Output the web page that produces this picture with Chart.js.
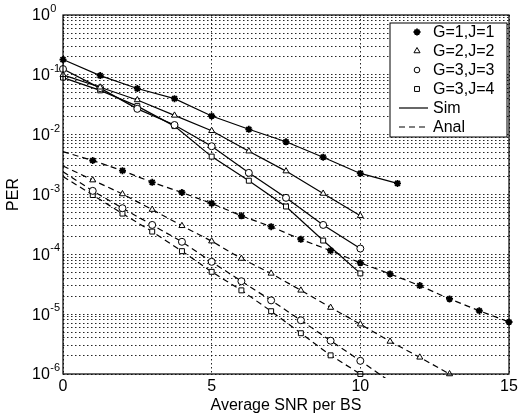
<!DOCTYPE html>
<html>
<head>
<meta charset="utf-8">
<script src="https://cdn.jsdelivr.net/npm/chart.js@4.4.1/dist/chart.umd.min.js"></script>
<style>
  body { margin: 0; background: #fff; }
  canvas { display: block; }
</style>
</head>
<body>
<canvas id="perChart" width="519" height="417"></canvas>
<script>
// simulated PER (solid lines)
const simSnr = [0, 1.25, 2.5, 3.75, 5, 6.25, 7.5, 8.75, 10, 11.25];
const simG1J1 = [0.18, 0.097, 0.059, 0.040, 0.0205, 0.0123, 0.0076, 0.0042, 0.00225, 0.00153];
const simG2J2 = [0.1, 0.062, 0.038, 0.021, 0.0116, 0.0053, 0.00246, 0.00104, 0.00044];
const simG3J3 = [0.125, 0.06, 0.027, 0.0145, 0.0064, 0.0023, 0.00088, 0.00031, 0.000125];
const simG3J4 = [0.09, 0.055, 0.03, 0.0139, 0.0043, 0.0017, 0.00063, 0.00017, 0.000048];

// analytical PER (dashed lines)
const analSnr = [0, 1, 2, 3, 4, 5, 6, 7, 8, 9, 10, 11, 12, 13, 14, 15];
const analG1J1 = [0.0052, 0.0037, 0.0025, 0.0016, 0.00108, 0.00071, 0.00044, 0.00029, 0.000178, 0.000115, 7.2e-5, 4.7e-5, 3.0e-5, 1.8e-5, 1.14e-5, 7.4e-6];
const analG2J2 = [0.003, 0.00174, 0.00102, 0.00056, 0.0003, 0.000166, 8.5e-5, 4.8e-5, 2.5e-5, 1.29e-5, 6.8e-6, 3.5e-6, 1.9e-6, 1.0e-6];
const analG3J3 = [0.0024, 0.00115, 0.00059, 0.00031, 0.000162, 7.5e-5, 3.55e-5, 1.7e-5, 7.9e-6, 3.6e-6, 1.66e-6, 7.5e-7];
const analG3J4 = [0.002, 0.00098, 0.00048, 0.00024, 0.000113, 5.1e-5, 2.5e-5, 1.12e-5, 4.8e-6, 2.05e-6, 1.0e-6];

const legendLabels = ['G=1,J=1', 'G=2,J=2', 'G=3,J=3', 'G=3,J=4', 'Sim', 'Anal'];
const markerStyles = ['star', 'triangle', 'circle', 'rect'];
const xTicks = [0, 5, 10, 15];
const yDecades = [0, -1, -2, -3, -4, -5, -6];

const FONT = "'Liberation Sans', Arial, Helvetica, sans-serif";

function pts(xs, ys) {
    return ys.map((v, i) => ({ x: xs[i], y: v }));
}

function series(xs, ys, style, dashed) {
    return {
        data: pts(xs, ys),
        borderColor: '#000',
        borderWidth: 1.2,
        borderDash: dashed ? [6, 4] : [],
        pointStyle: style,
        pointRadius: dashed ? (c => (c.raw && c.raw.x === 0 ? 0 : 3.5)) : 3.5,
        pointBorderWidth: style === 'star' ? 1.8 : 1,
        pointBorderColor: '#000',
        pointBackgroundColor: style === 'star' ? '#000' : '#fff',
        tension: 0,
        clip: 4
    };
}

function drawMarker(ctx, style, x, y, r) {
    ctx.save();
    ctx.strokeStyle = '#000';
    ctx.fillStyle = style === 'star' ? '#000' : '#fff';
    ctx.lineWidth = style === 'star' ? 1.8 : 1;
    ctx.beginPath();
    if (style === 'star') {
        for (let k = 0; k < 4; k++) {
            const a = k * Math.PI / 4;
            ctx.moveTo(x - r * Math.cos(a), y - r * Math.sin(a));
            ctx.lineTo(x + r * Math.cos(a), y + r * Math.sin(a));
        }
        ctx.stroke();
    } else if (style === 'triangle') {
        ctx.moveTo(x, y - r);
        ctx.lineTo(x + r * 0.87, y + r * 0.5);
        ctx.lineTo(x - r * 0.87, y + r * 0.5);
        ctx.closePath();
        ctx.fill(); ctx.stroke();
    } else if (style === 'circle') {
        ctx.arc(x, y, r * 0.8, 0, Math.PI * 2);
        ctx.fill(); ctx.stroke();
    } else {
        ctx.rect(x - r * 0.7, y - r * 0.7, r * 1.4, r * 1.4);
        ctx.fill(); ctx.stroke();
    }
    ctx.restore();
}

const decor = {
    id: 'decor',
    afterDraw(chart) {
        const { ctx, chartArea: a } = chart;
        const x = chart.scales.x;
        const y = chart.scales.y;
        ctx.save();
        ctx.setLineDash([]);
        ctx.strokeStyle = '#000';
        ctx.lineWidth = 1.2;
        ctx.strokeRect(a.left, a.top, a.right - a.left, a.bottom - a.top);

        ctx.fillStyle = '#000';
        ctx.textBaseline = 'middle';

        // x tick labels and title
        ctx.font = '16px ' + FONT;
        ctx.textAlign = 'center';
        xTicks.forEach(v => {
            ctx.fillText(String(v), x.getPixelForValue(v), a.bottom + 13);
        });
        ctx.fillText('Average SNR per BS', (a.left + a.right) / 2, a.bottom + 32);

        // y tick labels 10^n
        ctx.textAlign = 'left';
        yDecades.forEach(e => {
            const py = y.getPixelForValue(Math.pow(10, e));
            ctx.font = '16px ' + FONT;
            ctx.fillText('10', 32, py + 1);
            const w = ctx.measureText('10').width;
            ctx.font = '11px ' + FONT;
            ctx.fillText(String(e), 32 + w + 0.5, py - 6);
        });

        // y title
        ctx.save();
        ctx.translate(14, (a.top + a.bottom) / 2);
        ctx.rotate(-Math.PI / 2);
        ctx.textAlign = 'center';
        ctx.font = '16px ' + FONT;
        ctx.fillText('PER', 0, 0);
        ctx.restore();

        // legend box
        const bx = 390, by = 23, bw = 117, bh = 114;
        ctx.fillStyle = '#fff';
        ctx.fillRect(bx, by, bw, bh);
        ctx.strokeStyle = '#000';
        ctx.lineWidth = 1;
        ctx.strokeRect(bx, by, bw, bh);
        legendLabels.forEach((lab, i) => {
            const ry = by + 9 + i * 19;
            if (i < 4) {
                drawMarker(ctx, markerStyles[i], 417, ry, 3.5);
            } else {
                ctx.save();
                ctx.strokeStyle = '#000';
                ctx.lineWidth = 1.2;
                ctx.setLineDash(i === 5 ? [6, 4] : []);
                ctx.beginPath();
                ctx.moveTo(399, ry);
                ctx.lineTo(428, ry);
                ctx.stroke();
                ctx.restore();
            }
            ctx.fillStyle = '#000';
            ctx.font = '16px ' + FONT;
            ctx.textAlign = 'left';
            ctx.textBaseline = 'middle';
            ctx.fillText(lab, 433, ry + 1);
        });
        ctx.restore();
    }
};

const ctx = document.getElementById('perChart').getContext('2d');
new Chart(ctx, {
    type: 'line',
    data: {
        datasets: [
            series(simSnr, simG1J1, 'star', false),
            series(simSnr, simG2J2, 'triangle', false),
            series(simSnr, simG3J3, 'circle', false),
            series(simSnr, simG3J4, 'rect', false),
            series(analSnr, analG1J1, 'star', true),
            series(analSnr, analG2J2, 'triangle', true),
            series(analSnr, analG3J3, 'circle', true),
            series(analSnr, analG3J4, 'rect', true)
        ]
    },
    options: {
        responsive: false,
        animation: false,
        layout: { padding: { left: 63, top: 15, right: 10, bottom: 43 } },
        scales: {
            x: {
                type: 'linear',
                min: 0,
                max: 15,
                ticks: { stepSize: 5, display: false },
                grid: { color: 'rgba(0,0,0,0.85)', drawTicks: false },
                border: { display: false, dash: [1.5, 2.5] }
            },
            y: {
                type: 'logarithmic',
                min: 1e-6,
                max: 1,
                afterBuildTicks(scale) {
                    const t = [];
                    for (let e = -6; e <= 0; e++) {
                        for (let m = 1; m <= 9; m++) {
                            const v = m * Math.pow(10, e);
                            if (v <= 1) t.push({ value: v });
                        }
                    }
                    scale.ticks = t;
                },
                ticks: { display: false },
                grid: { color: 'rgba(0,0,0,0.85)', drawTicks: false },
                border: { display: false, dash: [1.5, 2.5] }
            }
        },
        plugins: {
            legend: { display: false },
            tooltip: { enabled: false }
        }
    },
    plugins: [decor]
});
</script>
</body>
</html>
